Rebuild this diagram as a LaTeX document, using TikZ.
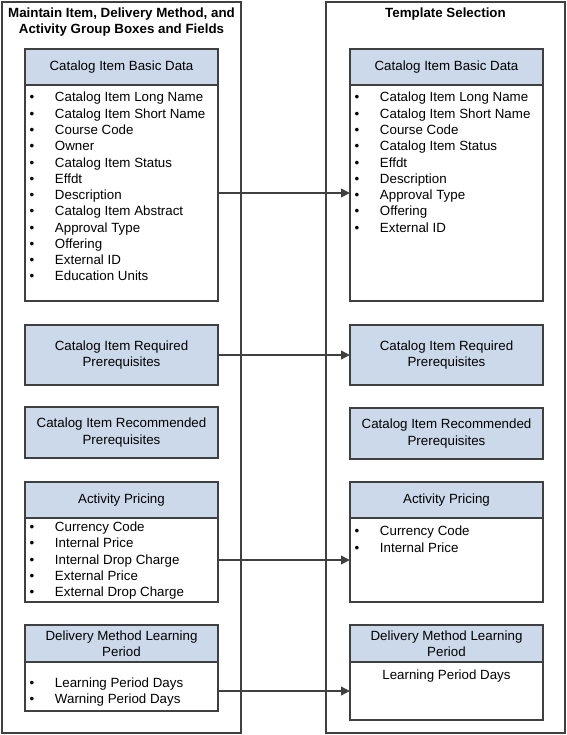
\documentclass[tikz,border=0pt]{standalone}
\usepackage{fontspec}
\setmainfont{Liberation Sans}
\usepackage{tikz}
\usetikzlibrary{arrows.meta,positioning}

\definecolor{lnc}{RGB}{64,64,64}
\definecolor{hdrblue}{RGB}{204,217,234}

\newcommand{\blist}[1]{\begin{tabular}[t]{@{}p{19pt}@{}l@{}}#1\end{tabular}}

\begin{document}
\begin{tikzpicture}[x = 0.75pt, y = -0.75pt, font = \fontsize{10}{12.2}\selectfont,
   every node/.style = {inner sep = 0pt, outer sep = 0pt},
   panel/.style = {draw = lnc, line width = 1pt, anchor = north west,
      minimum width = 179.25pt, minimum height = 548.25pt},
   hdr/.style = {draw = lnc, line width = 1pt, fill = hdrblue, anchor = north west,
      minimum width = 144.75pt, minimum height = 27pt, align = center},
   body/.style = {draw = lnc, line width = 1pt, fill = white, minimum width = 144.75pt},
   lst/.style = {anchor = base west},
   arr/.style = {color = lnc, line width = 1pt, -{Triangle[length = 6.75pt, width = 6.5pt]}}] 
   \useasboundingbox (0,0) rectangle (567,735);
   \node[panel] (lpan) at (2,2) {};
   \node[panel] (rpan) at (326,2) {};
   \node[font = \fontsize{10}{12.2}\selectfont\bfseries, align = center] (ltitle) at (121.5,22)
      {Maintain Item, Delivery Method, and\\Activity Group Boxes and Fields};
   \node[font = \fontsize{10}{12.2}\selectfont\bfseries] (rtitle) at (445.5,14) {Template Selection};
   % left column
   \node[hdr] (lb_h) at (25,49) {Catalog Item Basic Data};
   \node[body, minimum height = 162pt] (lb_b) [below = 0pt of lb_h] {};
   \node[lst] (lb_l) at ([xshift = 3.5pt, yshift = -12.75pt]lb_b.north west) {\blist{
      \textbullet & Catalog Item Long Name\\
      \textbullet & Catalog Item Short Name\\
      \textbullet & Course Code\\
      \textbullet & Owner\\
      \textbullet & Catalog Item Status\\
      \textbullet & Effdt\\
      \textbullet & Description\\
      \textbullet & Catalog Item Abstract\\
      \textbullet & Approval Type\\
      \textbullet & Offering\\
      \textbullet & External ID\\
      \textbullet & Education Units}};
   \node[hdr, minimum height = 45pt] (lrq) at (25,325) {Catalog Item Required\\Prerequisites};
   \node[hdr, minimum height = 38.25pt] (lrc) at (25,407) {Catalog Item Recommended\\Prerequisites};
   \node[hdr] (lp_h) at (25,482) {Activity Pricing};
   \node[body, minimum height = 63pt] (lp_b) [below = 0pt of lp_h] {};
   \node[lst] (lp_l) at ([xshift = 3.5pt, yshift = -10.1pt]lp_b.north west) {\blist{
      \textbullet & Currency Code\\
      \textbullet & Internal Price\\
      \textbullet & Internal Drop Charge\\
      \textbullet & External Price\\
      \textbullet & External Drop Charge}};
   \node[hdr, minimum height = 27.75pt] (ld_h) at (25,625) {Delivery Method Learning\\Period};
   \node[body, minimum height = 36.75pt] (ld_b) [below = 0pt of ld_h] {};
   \node[lst] (ld_l) at ([xshift = 3.5pt, yshift = -18.8pt]ld_b.north west) {\blist{
      \textbullet & Learning Period Days\\
      \textbullet & Warning Period Days}};
   % right column
   \node[hdr] (rb_h) at (350,49) {Catalog Item Basic Data};
   \node[body, minimum height = 162pt] (rb_b) [below = 0pt of rb_h] {};
   \node[lst] (rb_l) at ([xshift = 3.5pt, yshift = -12.75pt]rb_b.north west) {\blist{
      \textbullet & Catalog Item Long Name\\
      \textbullet & Catalog Item Short Name\\
      \textbullet & Course Code\\
      \textbullet & Catalog Item Status\\
      \textbullet & Effdt\\
      \textbullet & Description\\
      \textbullet & Approval Type\\
      \textbullet & Offering\\
      \textbullet & External ID}};
   \node[hdr, minimum height = 45pt] (rrq) at (350,325) {Catalog Item Required\\Prerequisites};
   \node[hdr, minimum height = 38.25pt] (rrc) at (350,408) {Catalog Item Recommended\\Prerequisites};
   \node[hdr] (rp_h) at (350,482) {Activity Pricing};
   \node[body, minimum height = 63pt] (rp_b) [below = 0pt of rp_h] {};
   \node[lst] (rp_l) at ([xshift = 3.5pt, yshift = -13.4pt]rp_b.north west) {\blist{
      \textbullet & Currency Code\\
      \textbullet & Internal Price}};
   \node[hdr, minimum height = 27.75pt] (rd_h) at (350,625) {Delivery Method Learning\\Period};
   \node[body, minimum height = 43.5pt] (rd_b) [below = 0pt of rd_h] {};
   \node[anchor = base] (rd_l) at ([yshift = -12.75pt]rd_b.north) {Learning Period Days};
   \path[arr]
    (lb_b) edge (rb_b)
    (lrq) edge (rrq)
    (lp_b) edge (rp_b)
    (ld_b.east |- rd_b.west) edge (rd_b);
\end{tikzpicture}
\end{document}
